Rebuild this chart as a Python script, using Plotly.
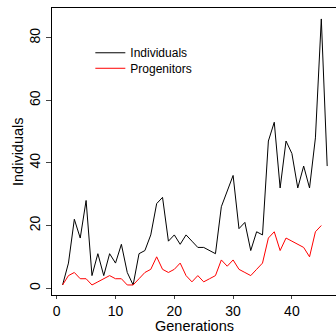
import plotly.graph_objects as go

generations = list(range(1, 47))
individuals = [1, 8, 22, 16, 28, 4, 11, 4, 11, 8, 14, 5, 1, 11, 12, 17, 27, 29, 15, 17,
               14, 17, 15, 13, 13, 12, 11, 26, 31, 36, 19, 21, 12, 18, 17, 47, 53, 32, 47, 43,
               32, 39, 32, 48, 86, 39]
progenitors = [1, 4, 5, 3, 3, 1, 2, 3, 4, 3, 3, 1, 1, 3, 5, 6, 10, 6, 5, 6,
               8, 4, 2, 4, 2, 3, 4, 9, 7, 9, 6, 5, 4, 6, 8, 16, 18, 12, 16, 15,
               14, 13, 10, 18, 20, None]
y_ticks = [0, 20, 40, 60, 80]
x_ticks = [0, 10, 20, 30, 40]
x_title = "Generations"
y_title = "Individuals"

FAM = "Liberation Sans, Arial, Helvetica, sans-serif"
fig = go.Figure()
fig.add_trace(go.Scatter(x=generations, y=individuals, mode="lines", name="Individuals",
                         line=dict(color="black", width=1), legend="legend"))
fig.add_trace(go.Scatter(x=generations, y=progenitors, mode="lines", name="Progenitors",
                         line=dict(color="#ff0000", width=1), legend="legend2"))

tickfont = dict(family=FAM, size=14, color="black")
titlefont = dict(family=FAM, size=14.5, color="black")
legfont = dict(family=FAM, size=12, color="black")
fig.update_layout(
    width=336, height=333,
    margin=dict(l=52, r=0, t=8, b=38),
    paper_bgcolor="white", plot_bgcolor="white",
    font=tickfont,
    showlegend=True,
    legend=dict(x=0.135, y=0.844, xanchor="left", yanchor="middle", bgcolor="rgba(0,0,0,0)",
                font=legfont, itemwidth=30),
    legend2=dict(x=0.135, y=0.790, xanchor="left", yanchor="middle", bgcolor="rgba(0,0,0,0)",
                 font=legfont, itemwidth=30),
    xaxis=dict(range=[-0.8, 47.5], tickvals=x_ticks, ticks="outside", ticklen=3,
               showgrid=False, zeroline=False, showline=True, linecolor="black", linewidth=1,
               mirror=True, tickfont=tickfont, automargin=False),
    yaxis=dict(range=[-2.2, 89.5], tickvals=y_ticks, ticks="outside", ticklen=5,
               tickangle=-90,
               showgrid=False, zeroline=False, showline=True, linecolor="black", linewidth=1,
               tickfont=tickfont, automargin=False),
    annotations=[
        dict(text=x_title, xref="paper", yref="paper", x=0.5, y=-0.107,
             xanchor="center", yanchor="middle", showarrow=False, font=titlefont),
        dict(text=y_title, xref="paper", yref="paper", x=-0.1215, y=0.5, textangle=-90,
             xanchor="center", yanchor="middle", showarrow=False, font=titlefont),
    ],
)
fig.write_html("out.html")
